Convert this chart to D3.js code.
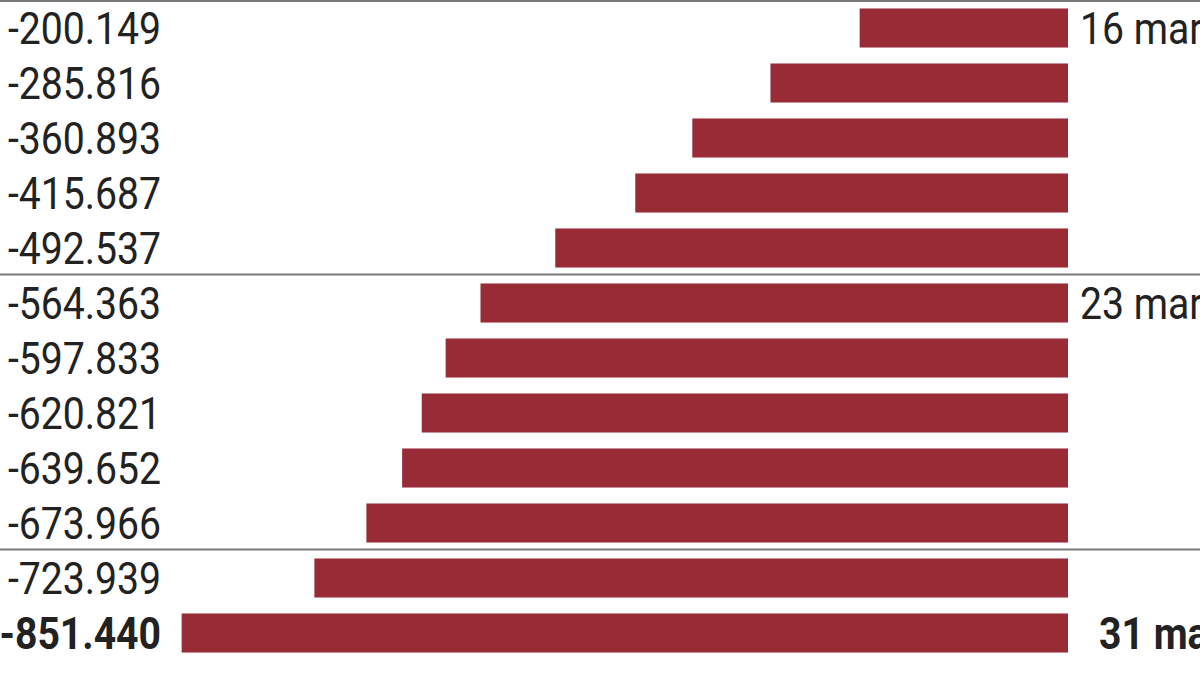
<!DOCTYPE html>
<html><head><meta charset="utf-8">
<script src="https://cdn.jsdelivr.net/npm/d3@7"></script>
<style>html,body{margin:0;padding:0;background:#fff;overflow:hidden}</style>
</head><body>
<svg id="c" width="1200" height="694"></svg>
<script>
const values = [-200149, -285816, -360893, -415687, -492537, -564363, -597833, -620821, -639652, -673966, -723939, -851440];
const dateLabels = ["16 mar", "", "", "", "", "23 mar", "", "", "", "", "", "31 mar"];
const groupStarts = [0, 5, 10];
const boldRows = [11];

const svg = d3.select("#c");
const W = 1200, H = 694;
const loc = d3.formatLocale({decimal: ",", thousands: ".", grouping: [3], currency: ["", "€"], minus: "-"});
const fmt = loc.format(",d");

const x = d3.scaleLinear().domain([0, -1000000]).range([1068, 27]);
const y = d3.scaleBand().domain(d3.range(values.length)).range([0.5, 660.5]).paddingInner(0.29).paddingOuter(0.145);
const step = y.step();
const gap = step - y.bandwidth();

// separators
svg.selectAll("line.sep").data(groupStarts).join("line")
  .attr("x1", 0).attr("x2", W)
  .attr("y1", d => Math.max(1, y(d) - gap/2 - 1)).attr("y2", d => Math.max(1, y(d) - gap/2 - 1))
  .attr("stroke", "#7a7a7a").attr("stroke-width", 2);

// bars
svg.selectAll("rect.bar").data(values).join("rect")
  .attr("x", d => x(d)).attr("width", d => x(0) - x(d))
  .attr("y", (d, i) => y(i)).attr("height", y.bandwidth())
  .attr("fill", "#992b37");

const fontFam = "Roboto, 'Noto Sans', sans-serif";
const sx = 0.87;
// value labels
svg.selectAll("text.val").data(values).join("text")
  .attr("transform", (d, i) => `translate(161,${y(i) + y.bandwidth()/2 + 16}) scale(${sx},1)`)
  .attr("text-anchor", "end")
  .attr("font-family", fontFam).attr("font-size", 45)
  .attr("font-weight", (d, i) => boldRows.includes(i) ? 700 : 400)
  .attr("fill", "#222")
  .text(d => fmt(d));

// date labels
svg.selectAll("text.date").data(dateLabels).join("text")
  .attr("transform", (d, i) => `translate(${x(0) + (boldRows.includes(i) ? 31 : 12)},${y(i) + y.bandwidth()/2 + 16}) scale(${sx},1)`)
  .attr("font-family", fontFam).attr("font-size", 45)
  .attr("font-weight", (d, i) => boldRows.includes(i) ? 700 : 400)
  .attr("fill", "#222")
  .text(d => d);
</script>
</body></html>
